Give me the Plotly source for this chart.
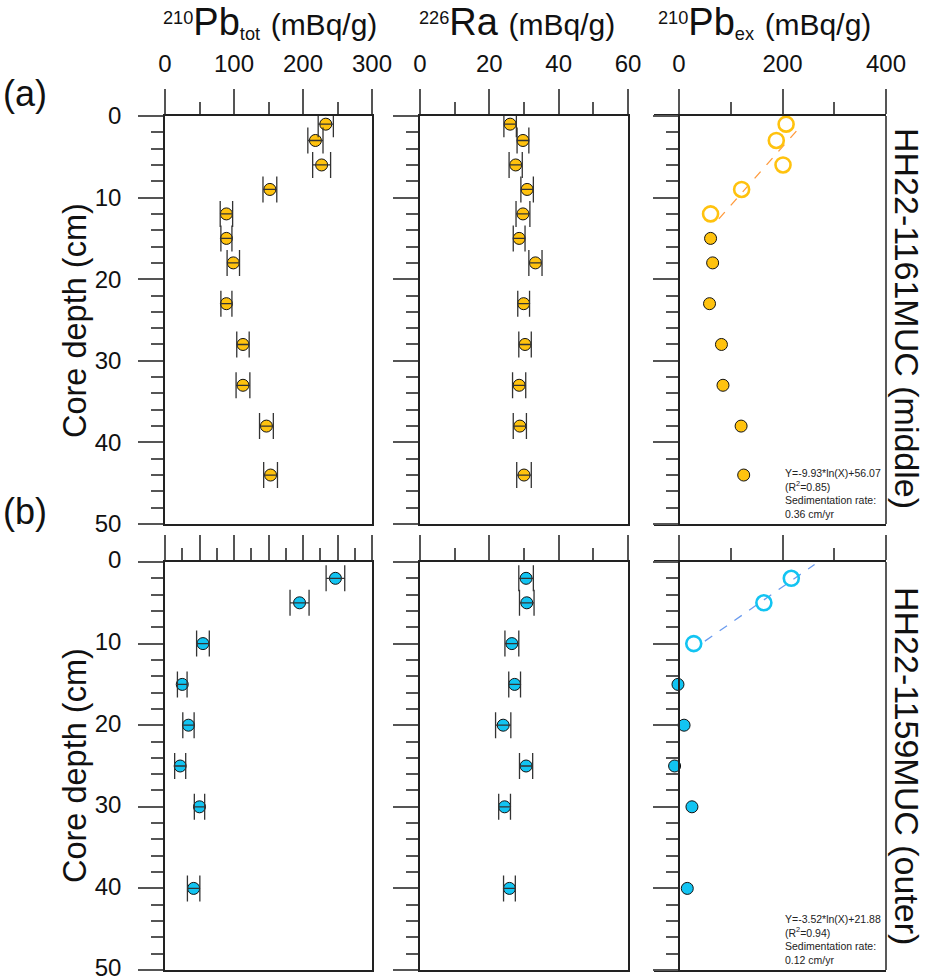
import plotly.graph_objects as go
from plotly.subplots import make_subplots

# ---- HH22-1161MUC (middle) ----
depth_a = [1, 3, 6, 9, 12, 15, 18, 23, 28, 33, 38, 44]
pbtot_a = [233, 218, 227, 152, 89, 89, 99, 89, 113, 113, 147, 153]
pbtot_err_a = [11, 11, 13, 10, 9, 8, 9, 8, 9, 10, 10, 10]
ra_a = [26.0, 29.7, 27.6, 30.9, 29.7, 28.6, 33.3, 29.9, 30.3, 28.6, 28.8, 30.0]
ra_err_a = [1.8, 1.7, 1.9, 1.8, 2.0, 1.7, 1.9, 1.7, 1.8, 1.9, 1.9, 2.1]
pbex_a = [207, 188, 201, 121, 61, 61, 65, 59, 82, 85, 120, 125]
used_in_fit_a = [True, True, True, True, True, False, False, False, False, False, False, False]
fit_x_a = [77, 229]
fit_y_a = [12.6, 1.7]
fit_text_a = "Y=-9.93*ln(X)+56.07<br>(R<sup>2</sup>=0.85)<br>Sedimentation rate:<br>0.36 cm/yr"

# ---- HH22-1159MUC (outer) ----
depth_b = [2, 5, 10, 15, 20, 25, 30, 40]
pbtot_b = [247, 195, 55, 25, 34, 22, 50, 41.5]
pbtot_err_b = [13.5, 13.8, 9.2, 7, 8.2, 8, 7.5, 9]
ra_b = [30.6, 30.8, 26.5, 27.3, 24.0, 30.6, 24.4, 25.8]
ra_err_b = [2.1, 2.1, 2.0, 1.7, 2.2, 1.9, 1.7, 1.7]
pbex_b = [217, 164, 28.5, -2, 9.8, -8.5, 25, 16]
used_in_fit_b = [True, True, True, False, False, False, False, False]
fit_x_b = [50, 262]
fit_y_b = [9.7, 0.3]
fit_text_b = "Y=-3.52*ln(X)+21.88<br>(R<sup>2</sup>=0.94)<br>Sedimentation rate:<br>0.12 cm/yr"

W, H = 927, 978
FONT = "Liberation Sans, Arial, sans-serif"
YELLOW = "#FFC20E"
BLUE = "#12C4F2"
ORANGE_LINE = "#FF9A3C"
BLUE_LINE = "#6A9BEF"
LINE = "#222"
TICK = "#555"


def px(x):
    return x / W


def py(y):
    return 1 - y / H


fig = make_subplots(rows=2, cols=3)

col_px = [(165, 372), (420, 628), (679, 886)]
row_px = [(116, 524), (562, 970)]
x_ranges = [[0, 300], [0, 60], [0, 400]]
x_major = [[100, 50], [20, 20], [200, 200]]
x_minor = [[50, 25], [10, 10], [100, 100]]
MAJOR_LEN = 25
# excess panels: x axis starts MAJOR_LEN px left of zero so points just below 0 stay visible
ex_scale = (x_ranges[2][1] - x_ranges[2][0]) / (col_px[2][1] - col_px[2][0])

rows = [
    (1, depth_a, pbtot_a, pbtot_err_a, ra_a, ra_err_a, pbex_a, used_in_fit_a, fit_x_a, fit_y_a, YELLOW, ORANGE_LINE),
    (2, depth_b, pbtot_b, pbtot_err_b, ra_b, ra_err_b, pbex_b, used_in_fit_b, fit_x_b, fit_y_b, BLUE, BLUE_LINE),
]

for r, dep, tot, tot_e, ra, ra_e, ex, used, fx, fy, col, lcol in rows:
    for c, vals, errs in [(1, tot, tot_e), (2, ra, ra_e)]:
        fig.add_trace(go.Scatter(
            x=vals, y=dep, mode="markers",
            marker=dict(size=12, color=col, line=dict(color="#111", width=1)),
            cliponaxis=False, showlegend=False), row=r, col=c)
        # error bars drawn on top of the markers
        fig.add_trace(go.Scatter(
            x=vals, y=dep, mode="markers",
            marker=dict(size=1, color="rgba(0,0,0,0)"),
            error_x=dict(type="data", array=errs, color="#333", thickness=1.3, width=13),
            cliponaxis=False, showlegend=False), row=r, col=c)
    fig.add_trace(go.Scatter(
        x=fx, y=fy, mode="lines",
        line=dict(color=lcol, width=1.3, dash="dash"),
        showlegend=False), row=r, col=3)
    fig.add_trace(go.Scatter(
        x=[v for v, u in zip(ex, used) if u], y=[d for d, u in zip(dep, used) if u],
        mode="markers",
        marker=dict(size=15, symbol="circle-open", color=col, line=dict(width=2.6)),
        cliponaxis=False, showlegend=False), row=r, col=3)
    fig.add_trace(go.Scatter(
        x=[v for v, u in zip(ex, used) if not u], y=[d for d, u in zip(dep, used) if not u],
        mode="markers",
        marker=dict(size=12, color=col, line=dict(color="#111", width=1)),
        cliponaxis=False, showlegend=False), row=r, col=3)

axis_common = dict(showline=True, linecolor=LINE, linewidth=1.5,
                   showgrid=False, zeroline=False, ticks="outside", tickcolor=TICK,
                   tickwidth=1.5, ticklen=MAJOR_LEN, automargin=False,
                   ticklabeloverflow="allow",
                   tickfont=dict(family=FONT, size=24, color="#111"))

shapes = []
for r in range(2):
    for c in range(3):
        n = r * 3 + c + 1
        xa = "xaxis" if n == 1 else f"xaxis{n}"
        ya = "yaxis" if n == 1 else f"yaxis{n}"
        x0, x1 = col_px[c]
        y0, y1 = row_px[r]
        if c == 2:
            xdom = [px(x0 - MAJOR_LEN), px(x1)]
            xrng = [-MAJOR_LEN * ex_scale, x_ranges[c][1]]
            yext = dict(anchor="free", position=px(x0), mirror=False)
            shapes.append(dict(type="line", xref="paper", yref="paper",
                               x0=px(x1), x1=px(x1), y0=py(y1), y1=py(y0),
                               line=dict(color=LINE, width=1.5)))
        else:
            xdom = [px(x0), px(x1)]
            xrng = x_ranges[c]
            yext = dict(mirror=True)
        fig.layout[xa].update(
            domain=xdom, range=xrng, side="top", mirror=True,
            dtick=x_major[c][r], tick0=0, showticklabels=(r == 0),
            ticklabelstandoff=8,
            minor=dict(dtick=x_minor[c][r], tick0=0, ticks="outside", ticklen=12,
                       tickcolor=TICK, tickwidth=1.5),
            **axis_common)
        fig.layout[ya].update(
            domain=[py(y1), py(y0)], range=[50, 0], dtick=10, tick0=0,
            showticklabels=(c == 0), ticklabelstandoff=12,
            ticklabelshift=(2 if r == 1 else 0),
            minor=dict(dtick=2, tick0=0, ticks="outside", ticklen=12,
                       tickcolor=TICK, tickwidth=1.5),
            **yext, **axis_common)

anns = []
# column titles
titles = [
    "<span style='font-size:26px'><sup>210</sup></span>Pb<span style='font-size:26px'><sub>tot</sub></span> <span style='font-size:30px'>(mBq/g)</span>",
    "<span style='font-size:26px'><sup>226</sup></span>Ra <span style='font-size:30px'>(mBq/g)</span>",
    "<span style='font-size:26px'><sup>210</sup></span>Pb<span style='font-size:26px'><sub>ex</sub></span> <span style='font-size:30px'>(mBq/g)</span>",
]
title_x = [270, 517, 764]
for t, x in zip(titles, title_x):
    anns.append(dict(text=t, x=px(x), y=py(22), xref="paper", yref="paper",
                     showarrow=False, xanchor="center", yanchor="middle",
                     font=dict(family=FONT, size=38, color="#111")))

# panel letters
for t, y in [("(a)", 93), ("(b)", 511)]:
    anns.append(dict(text=t, x=px(1), y=py(y), xref="paper", yref="paper",
                     showarrow=False, xanchor="left", yanchor="middle",
                     font=dict(family=FONT, size=36, color="#111")))

# y axis titles
for y in [321, 766]:
    anns.append(dict(text="Core depth (cm)", x=px(75), y=py(y), xref="paper", yref="paper",
                     showarrow=False, textangle=-90, xanchor="center", yanchor="middle",
                     font=dict(family=FONT, size=32.5, color="#111")))

# core labels on the right
for t, y in [("HH22-1161MUC (middle)", 318), ("HH22-1159MUC (outer)", 766)]:
    anns.append(dict(text=t, x=px(907), y=py(y), xref="paper", yref="paper",
                     showarrow=False, textangle=90, xanchor="center", yanchor="middle",
                     font=dict(family=FONT, size=34, color="#111")))

# regression text
for t, y in [(fit_text_a, 465), (fit_text_b, 911)]:
    anns.append(dict(text=t, x=px(783), y=py(y), xref="paper", yref="paper",
                     showarrow=False, align="left", xanchor="left", yanchor="top",
                     font=dict(family=FONT, size=10.5, color="#222")))

fig.update_layout(
    width=W, height=H,
    margin=dict(l=0, r=0, t=0, b=0, autoexpand=False),
    paper_bgcolor="white", plot_bgcolor="rgba(0,0,0,0)",
    annotations=anns, shapes=shapes,
    showlegend=False,
)

fig.write_html("out.html", config={"displayModeBar": False},
               post_script="document.body.style.margin='0';")
